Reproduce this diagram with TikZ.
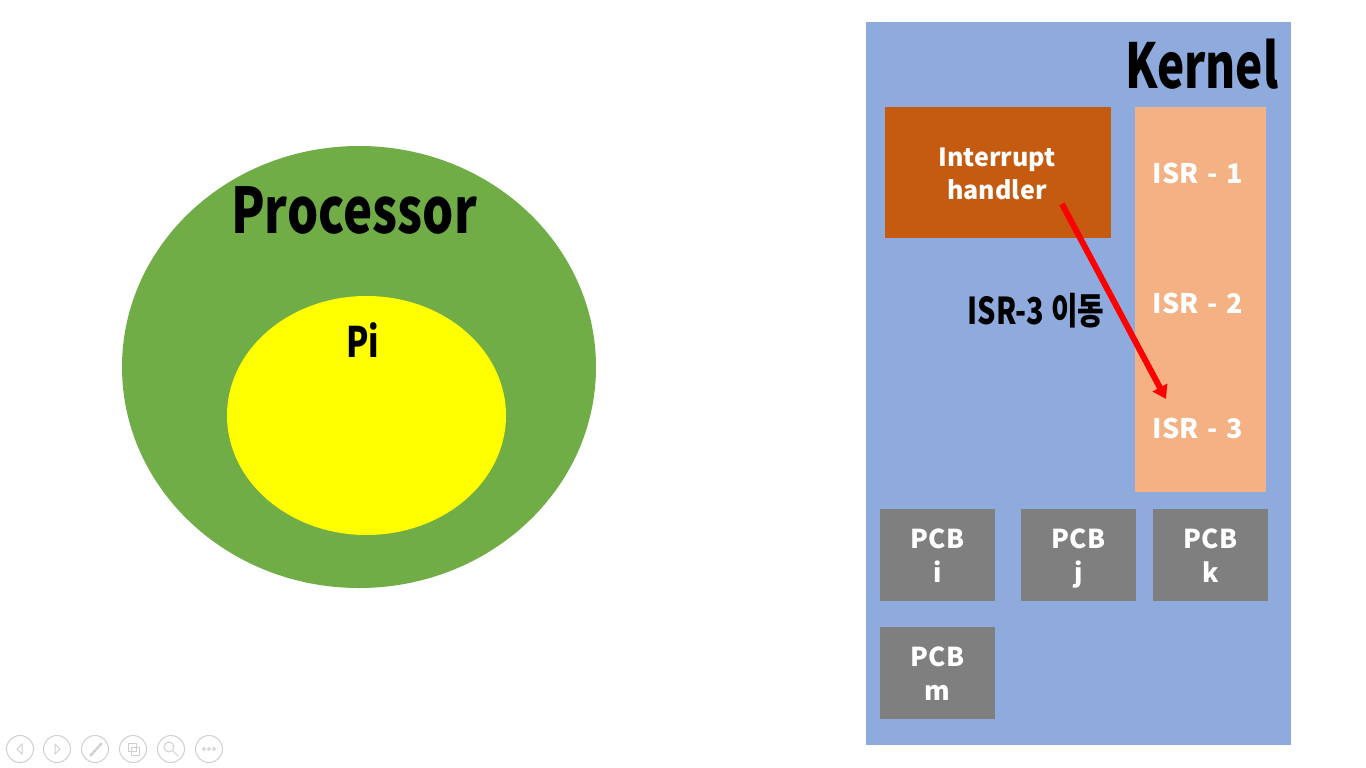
\documentclass[tikz,border=0pt]{standalone}
\usepackage{fontspec}
\setmainfont{Noto Sans CJK KR}
\newfontfamily\headfont[FakeStretch=0.78]{Noto Sans CJK KR}
\newfontfamily\narrowfont[FakeStretch=0.74]{Noto Sans CJK KR}
\newfontfamily\bodyfont{Noto Sans CJK KR}
\usetikzlibrary{shapes.geometric,arrows.meta}
\definecolor{kernelblue}{HTML}{8FAADC}
\definecolor{procgreen}{HTML}{70AD47}
\definecolor{piyellow}{HTML}{FFFF00}
\definecolor{handlerorange}{HTML}{C55A11}
\definecolor{isrpeach}{HTML}{F4B183}
\definecolor{pcbgray}{HTML}{7F7F7F}
\definecolor{navgray}{HTML}{D0D0D0}
\begin{document}
\begin{tikzpicture}[x=1pt,y=-1pt,
  headtext/.style={font=\headfont\bfseries\fontsize{#1}{#1}\selectfont, text=black, inner sep=0},
  whitetext/.style={font=\bodyfont\bfseries\fontsize{#1}{33}\selectfont, text=white, align=center, inner sep=0},
  pcbbox/.style={fill=pcbgray, minimum width=115pt, minimum height=92pt, inner sep=0},
  pcbtext/.style={font=\bodyfont\bfseries\fontsize{26}{34}\selectfont, text=white, align=center, inner sep=0},
  navbtn/.style={draw=navgray, line width=1pt, circle, minimum size=27pt, inner sep=0},
  navglyph/.style={draw=navgray, line width=1pt}
]
\useasboundingbox (0,0) rectangle (1366,768);
\fill[white] (0,0) rectangle (1366,768);

% Processor
\node[ellipse, fill=procgreen, minimum width=474pt, minimum height=442pt, inner sep=0] (proc) at (359,367) {};
\node[ellipse, fill=piyellow, minimum width=279pt, minimum height=239pt, inner sep=0] (pi) at (366.5,415.5) {};
\node[headtext=63] (proclabel) at (354,210) {Processor};
\node[headtext=42] (pilabel) at (363,340) {Pi};

% Kernel
\node[fill=kernelblue, minimum width=425pt, minimum height=723pt, inner sep=0] (kernel) at (1078.5,383.5) {};
\node[font=\narrowfont\bfseries\fontsize{62}{62}\selectfont, inner sep=0] (kernellabel) at (1202,64) {Kernel};

\node[fill=handlerorange, minimum width=226pt, minimum height=131pt, inner sep=0] (handler) at (998,172.5) {};
\node[whitetext=25] (handlerlabel) at (997,174) {Interrupt\\handler};

\node[fill=isrpeach, minimum width=131pt, minimum height=385pt, inner sep=0] (isr) at (1200.5,299.5) {};
\node[whitetext=27] (isr1) at (1198,173) {ISR\,\,-\,\,1};
\node[whitetext=27] (isr2) at (1198,303) {ISR\,\,-\,\,2};
\node[whitetext=27] (isr3) at (1198,428) {ISR\,\,-\,\,3};

\coordinate (arrowstart) at (1062,204);
\coordinate (arrowend) at (1166,399);
\draw[red, line width=6pt, -{Triangle[length=13pt,width=16pt]}] (arrowstart) -- (arrowend);
\node[headtext=37] (movelabel) at (1036,311) {ISR-3 이동};

\node[pcbbox] (pcbi) at (937.5,555) {};
\node[pcbbox] (pcbj) at (1078.5,555) {};
\node[pcbbox] (pcbk) at (1210.5,555) {};
\node[pcbbox] (pcbm) at (937.5,673) {};
\node[pcbtext] (pcbilabel) at (937.5,559) {\strut PCB\\i\strut};
\node[pcbtext] (pcbjlabel) at (1078.5,559) {\strut PCB\\j\strut};
\node[pcbtext] (pcbklabel) at (1210.5,559) {\strut PCB\\k\strut};
\node[pcbtext] (pcbmlabel) at (937.5,677) {\strut PCB\\m\strut};

% Navigation buttons
\node[navbtn] (nav1) at (20,749) {};
\node[navbtn] (nav2) at (57,749) {};
\node[navbtn] (nav3) at (95,749) {};
\node[navbtn] (nav4) at (133,749) {};
\node[navbtn] (nav5) at (171,749) {};
\node[navbtn] (nav6) at (209,749) {};
\draw[navglyph] (22,744) -- (17,749) -- (22,754) -- cycle;
\draw[navglyph] (55,744) -- (60,749) -- (55,754) -- cycle;
\draw[navglyph] (90,755) -- (101,743) -- (102,744) -- (91,756) -- cycle;
\draw[navglyph] (128,743) rectangle (136,751);
\draw[navglyph] (131,747) rectangle (139,755);
\draw[navglyph] (169,747) circle (5pt);
\draw[navglyph] (173,751) -- (178,756);
\draw[navglyph] (204,749) circle (1.5pt) (209,749) circle (1.5pt) (214,749) circle (1.5pt);
\end{tikzpicture}
\end{document}
